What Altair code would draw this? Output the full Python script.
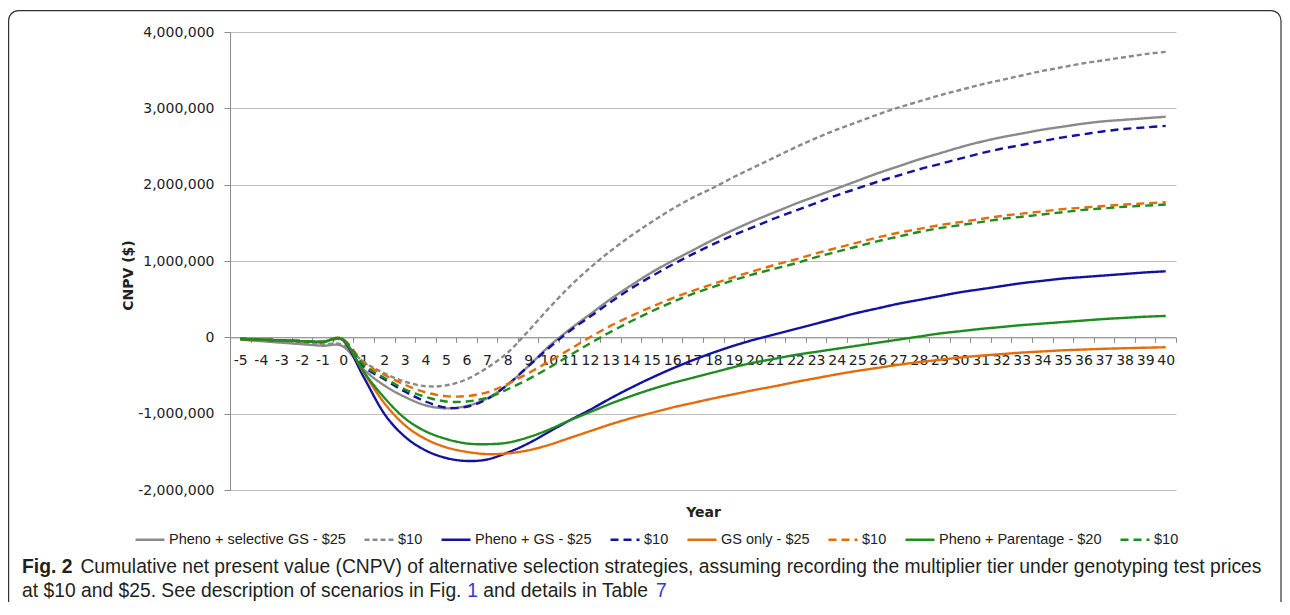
import altair as alt
import pandas as pd

# ---------------- data (values in $ million) ----------------
years = list(range(-5, 41))

series_names = [
    "Pheno + selective GS - $25", "Pheno + selective GS - $10",
    "Pheno + GS - $25", "Pheno + GS - $10",
    "GS only - $25", "GS only - $10",
    "Pheno + Parentage - $20", "Pheno + Parentage - $10",
]

sel25 = [-0.03, -0.05, -0.07, -0.09, -0.11, -0.12,
         -0.42, -0.63, -0.78, -0.89, -0.93, -0.90, -0.80, -0.62, -0.38, -0.12,
         0.10, 0.30, 0.50, 0.68, 0.85, 1.00, 1.14, 1.28, 1.41, 1.53,
         1.64, 1.75, 1.85, 1.95, 2.05, 2.15, 2.24, 2.33, 2.41, 2.49,
         2.56, 2.62, 2.67, 2.72, 2.76, 2.80, 2.83, 2.85, 2.87, 2.89]
sel10 = [-0.03, -0.04, -0.06, -0.08, -0.09, -0.10,
         -0.32, -0.47, -0.58, -0.64, -0.63, -0.55, -0.40, -0.20, 0.08, 0.38,
         0.66, 0.91, 1.13, 1.33, 1.51, 1.68, 1.83, 1.96, 2.10, 2.23,
         2.36, 2.49, 2.61, 2.72, 2.82, 2.92, 3.01, 3.09, 3.17, 3.24,
         3.31, 3.37, 3.43, 3.49, 3.54, 3.59, 3.63, 3.67, 3.71, 3.74]
gs25 = [-0.02, -0.03, -0.04, -0.05, -0.06, -0.04,
        -0.52, -1.00, -1.30, -1.48, -1.58, -1.62, -1.60, -1.51, -1.39, -1.24,
        -1.09, -0.95, -0.80, -0.66, -0.53, -0.41, -0.30, -0.20, -0.11, -0.03,
        0.04, 0.11, 0.18, 0.25, 0.32, 0.38, 0.44, 0.49, 0.54, 0.59,
        0.63, 0.67, 0.71, 0.74, 0.77, 0.79, 0.81, 0.83, 0.85, 0.865]
gs10 = [-0.02, -0.03, -0.04, -0.05, -0.06, -0.04,
        -0.38, -0.55, -0.71, -0.84, -0.92, -0.91, -0.81, -0.62, -0.38, -0.14,
        0.08, 0.27, 0.46, 0.64, 0.80, 0.95, 1.09, 1.22, 1.34, 1.45,
        1.56, 1.66, 1.76, 1.86, 1.95, 2.04, 2.12, 2.20, 2.27, 2.34,
        2.41, 2.47, 2.52, 2.57, 2.62, 2.66, 2.70, 2.73, 2.75, 2.77]
only25 = [-0.02, -0.03, -0.04, -0.05, -0.06, -0.03,
          -0.46, -0.86, -1.15, -1.33, -1.44, -1.50, -1.53, -1.52, -1.48, -1.41,
          -1.32, -1.23, -1.14, -1.06, -0.99, -0.92, -0.86, -0.80, -0.745, -0.69,
          -0.64, -0.585, -0.535, -0.485, -0.44, -0.40, -0.36, -0.325, -0.295, -0.265,
          -0.24, -0.22, -0.20, -0.185, -0.17, -0.16, -0.15, -0.143, -0.136, -0.13]
only10 = [-0.02, -0.03, -0.04, -0.05, -0.06, -0.03,
          -0.33, -0.49, -0.62, -0.72, -0.77, -0.77, -0.72, -0.61, -0.47, -0.32,
          -0.16, 0.00, 0.15, 0.28, 0.40, 0.51, 0.61, 0.70, 0.79, 0.87,
          0.95, 1.02, 1.10, 1.17, 1.24, 1.31, 1.37, 1.42, 1.47, 1.51,
          1.55, 1.59, 1.62, 1.65, 1.68, 1.70, 1.72, 1.74, 1.755, 1.77]
par20 = [-0.02, -0.03, -0.04, -0.05, -0.06, -0.03,
         -0.45, -0.79, -1.06, -1.23, -1.33, -1.39, -1.40, -1.38, -1.31, -1.21,
         -1.09, -0.98, -0.87, -0.77, -0.68, -0.60, -0.53, -0.46, -0.39, -0.33,
         -0.28, -0.23, -0.19, -0.15, -0.11, -0.07, -0.03, 0.01, 0.05, 0.08,
         0.11, 0.135, 0.16, 0.18, 0.20, 0.22, 0.24, 0.255, 0.27, 0.28]
par10 = [-0.02, -0.03, -0.04, -0.05, -0.06, -0.03,
         -0.36, -0.53, -0.68, -0.78, -0.84, -0.84, -0.79, -0.68, -0.55, -0.40,
         -0.24, -0.08, 0.07, 0.21, 0.34, 0.46, 0.57, 0.66, 0.75, 0.83,
         0.90, 0.97, 1.05, 1.12, 1.19, 1.26, 1.32, 1.38, 1.43, 1.47,
         1.51, 1.55, 1.58, 1.61, 1.64, 1.67, 1.69, 1.71, 1.725, 1.74]

series_values = [sel25, sel10, gs25, gs10, only25, only10, par20, par10]

y_ticks = [-2000000, -1000000, 0, 1000000, 2000000, 3000000, 4000000]

caption1_bold = "Fig. 2"
caption1_rest = ("Cumulative net present value (CNPV) of alternative selection strategies, "
                 "assuming recording the multiplier tier under genotyping test prices")
caption2_a = "at $10 and $25. See description of scenarios in Fig."
caption2_ref1 = "1"
caption2_b = "and details in Table"
caption2_ref2 = "7"

# ---------------- styling ----------------
colors = ["#8a8a8a", "#8a8a8a", "#12129e", "#12129e",
          "#e46c0a", "#e46c0a", "#1f8c1f", "#1f8c1f"]
dashes = [[1, 0], [5, 3], [1, 0], [8, 5], [1, 0], [8, 5], [1, 0], [8, 5]]

rows = []
for name, vals in zip(series_names, series_values):
    for yr, v in zip(years, vals):
        rows.append({"series": name, "year": yr, "value": v * 1e6})
df = pd.DataFrame(rows)

W, H = 946, 458
ORX, ORY = 230, 32          # plot origin on the page
ZERO_OFF = -H / 3.0         # move x axis up to the zero line
AX = "#8c8c8c"
GRID = "#bdbdbd"
TXT = "#222222"
TICKFONT = "DejaVu Sans"
CAPFONT = "Liberation Sans"
CAPSIZE = 19.3

# Arial/Liberation Sans advance widths (per 1000 em) to place the coloured caption pieces
_w = {" ": 278, "$": 556, "(": 333, ")": 333, ",": 278, "-": 333, ".": 278,
      "A": 667, "C": 722, "F": 611, "G": 778, "N": 722, "P": 667, "S": 667, "T": 611, "V": 667,
      "a": 556, "b": 556, "c": 500, "d": 556, "e": 556, "f": 278, "g": 556, "h": 556,
      "i": 222, "k": 500, "l": 222, "m": 833, "n": 556, "o": 556, "p": 556, "r": 333,
      "s": 500, "t": 278, "u": 556, "v": 500, "w": 722, "y": 500}
for d in "0123456789":
    _w[d] = 556


def tw(s, size):
    return sum(_w.get(ch, 556) for ch in s) * size / 1000.0


x_scale = alt.Scale(domain=[-5.5, 40.5], nice=False, zero=False)
y_scale = alt.Scale(domain=[-2000000, 4000000], nice=False)

legend = alt.Legend(
    title=None, orient="none", legendX=-96, legendY=491.5,
    direction="horizontal", columns=8, symbolType="stroke",
    symbolSize=841, symbolStrokeWidth=2.5, labelFont=CAPFONT,
    labelFontSize=14.5, labelColor=TXT, labelLimit=400, labelOffset=3,
    columnPadding=13, padding=0,
    labelExpr="indexof(datum.value, '$10') >= 0 ? '$10' : datum.value",
)

lines = alt.Chart(df).mark_line(interpolate="cardinal", tension=0, strokeWidth=2.4).encode(
    x=alt.X("year:Q", scale=x_scale,
            axis=alt.Axis(orient="bottom", values=years, labelExpr="'' + datum.value",
                          tickSize=0, ticks=False, domain=True, domainColor=AX, grid=False,
                          offset=ZERO_OFF, title=None, labelPadding=16, labelFont=TICKFONT,
                          labelFontSize=14, labelColor=TXT, labelFlush=False,
                          labelOverlap=False)),
    y=alt.Y("value:Q", scale=y_scale,
            axis=alt.Axis(values=y_ticks,
                          labelExpr="replace(format(datum.value, ','), '\u2212', '-')",
                          grid=True, gridColor=GRID, gridWidth=1, tickSize=6, tickColor=AX,
                          domainColor=AX, labelFont=TICKFONT, labelFontSize=14,
                          labelColor=TXT, labelPadding=10, title="CNPV ($)",
                          titleFont=TICKFONT, titleFontSize=14, titleFontWeight="bold",
                          titleColor=TXT, titleAngle=270, titleX=-98, titleY=243,
                          titleAlign="center", titleBaseline="alphabetic")),
    color=alt.Color("series:N", scale=alt.Scale(domain=series_names, range=colors),
                    legend=legend),
    strokeDash=alt.StrokeDash("series:N", scale=alt.Scale(domain=series_names, range=dashes),
                              legend=legend),
)

tick_df = pd.DataFrame({"year": years})
ticks = alt.Chart(tick_df).mark_point(opacity=0).encode(
    x=alt.X("year:Q", scale=x_scale,
            axis=alt.Axis(orient="bottom", values=[y - 0.5 for y in years] + [40.5],
                          labels=False, domain=False, grid=False, tickSize=5,
                          tickColor=AX, offset=ZERO_OFF, title=None)),
)

xtitle = alt.Chart(tick_df).mark_point(opacity=0).encode(
    x=alt.X("year:Q", scale=x_scale,
            axis=alt.Axis(orient="bottom", labels=False, ticks=False, domain=False,
                          grid=False, title="Year", titleFont=TICKFONT, titleFontSize=14,
                          titleFontWeight="bold", titleColor=TXT, titlePadding=15)),
)

one = pd.DataFrame({"k": [0]})

frame = alt.Chart(one).mark_rect(cornerRadius=10, fillOpacity=0, stroke="#333333",
                                 strokeWidth=1.2).encode(
    x=alt.value(8.6 - ORX), x2=alt.value(1281 - ORX),
    y=alt.value(10.6 - ORY), y2=alt.value(700),
)

cap_x0 = 22 - ORX
line1_y = 573 - ORY
line2_y = 597 - ORY
bold_w = (611 + 278 + 611 + 278 + 278 + 556) * CAPSIZE / 1000.0
space_w = 278 * CAPSIZE / 1000.0


def cap(text, x, y, color="#231f20", weight="normal"):
    return alt.Chart(one).mark_text(
        text=text, align="left", baseline="alphabetic", font=CAPFONT,
        fontSize=CAPSIZE, fontWeight=weight, color=color,
    ).encode(x=alt.value(x), y=alt.value(y))


x_ref1 = cap_x0 + tw(caption2_a, CAPSIZE) + space_w
x_b = x_ref1 + tw(caption2_ref1, CAPSIZE) + space_w
x_ref2 = x_b + tw(caption2_b, CAPSIZE) + space_w

captions = [
    cap(caption1_bold, cap_x0, line1_y, weight="bold"),
    cap(caption1_rest, cap_x0 + bold_w + 8, line1_y),
    cap(caption2_a, cap_x0, line2_y),
    cap(caption2_ref1, x_ref1, line2_y, color="#2f3bd6"),
    cap(caption2_b, x_b, line2_y),
    cap(caption2_ref2, x_ref2, line2_y, color="#2f3bd6"),
]

chart = alt.layer(frame, lines, ticks, xtitle, *captions).resolve_axis(
    x="independent"
).properties(
    width=W, height=H,
    padding={"left": ORX - 8, "top": ORY - 8, "right": 1274 - (ORX - 8) - W, "bottom": 112},
    autosize=alt.AutoSizeParams(type="none"),
).configure_view(stroke=None)

chart.save("out.html", embed_options={"renderer": "svg", "actions": False})
